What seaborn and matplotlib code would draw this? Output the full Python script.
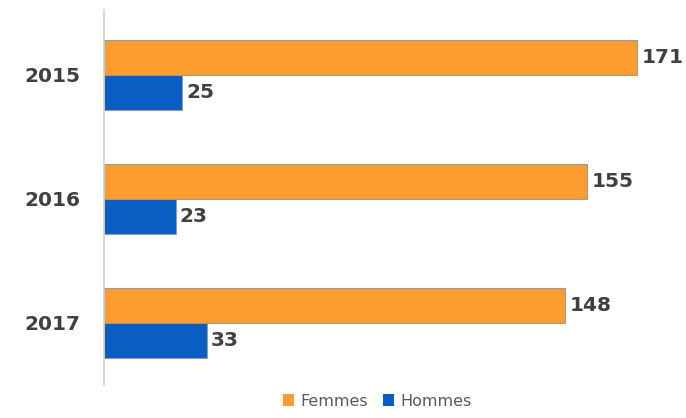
import matplotlib
matplotlib.use("Agg")
import matplotlib.pyplot as plt
import seaborn as sns
import pandas as pd

years = ["2015", "2016", "2017"]
femmes = [171, 155, 148]
hommes = [25, 23, 33]
series = ["Femmes", "Hommes"]

df = pd.DataFrame({
    "year": years * 2,
    "value": femmes + hommes,
    "sexe": [series[0]] * 3 + [series[1]] * 3,
})

sns.set_style("white")
plt.rcParams['font.family'] = ['DejaVu Sans']

fig = plt.figure(figsize=(6.86, 4.18), dpi=100)
ax = fig.add_axes([104 / 686, 33 / 418, 1 - 104 / 686, 375 / 418])

palette = {"Femmes": "#FD9D2F", "Hommes": "#0A5DC2"}
sns.barplot(data=df, y="year", x="value", hue="sexe", palette=palette,
            orient="h", width=0.565, ax=ax, edgecolor="#9a9a9a", linewidth=0.8,
            saturation=1, legend=False)

for cont in ax.containers:
    ax.bar_label(cont, padding=3, fontsize=14.5, fontweight="bold", color="#404040")

ax.set_xlim(0, 186.7)
ax.set_ylim(2.5, -0.524)
ax.set_xlabel("")
ax.set_ylabel("")
ax.set_xticks([])
for s in ["top", "right", "bottom"]:
    ax.spines[s].set_visible(False)
ax.spines["left"].set_color("#d0d0d0")
ax.spines["left"].set_linewidth(1.2)
ax.tick_params(axis="y", length=0, pad=17)
for t in ax.get_yticklabels():
    t.set_fontsize(14.5)
    t.set_fontweight("bold")
    t.set_color("#404040")

from matplotlib.patches import Patch
handles = [Patch(facecolor=palette[s], edgecolor="none") for s in series]
fig.legend(handles, series, loc="lower center", bbox_to_anchor=(0.55, -0.012),
           ncol=2, frameon=False, fontsize=11.5, handlelength=0.7, handleheight=0.7,
           columnspacing=0.9, handletextpad=0.4, labelcolor="#595959")

fig.savefig("out.png", dpi=100)
